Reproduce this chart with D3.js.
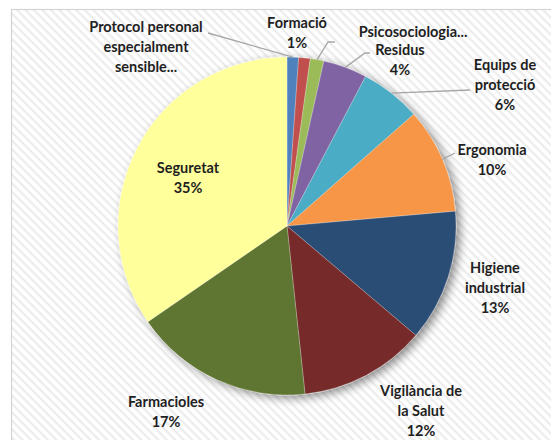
<!DOCTYPE html>
<html><head><meta charset="utf-8">
<script src="https://cdn.jsdelivr.net/npm/d3@7"></script>
<style>html,body{margin:0;padding:0;background:#fff;}</style>
</head><body>
<script>
const categories = ["Protocol personal especialment sensible...", "Formació", "Psicosociologia...", "Residus", "Equips de protecció", "Ergonomia", "Higiene industrial", "Vigilància de la Salut", "Farmacioles", "Seguretat"];
const values = [1.1, 1.1, 1.3, 4.2, 5.8, 10.1, 12.6, 12.1, 17.1, 34.6];
const labelLines = [["Protocol personal","especialment","sensible..."],["Formació"],["Psicosociologia..."],["Residus"],["Equips de","protecció"],["Ergonomia"],["Higiene","industrial"],["Vigilància de","la Salut"],["Farmacioles"],["Seguretat"]];
const showPct = [false, true, false, true, true, true, true, true, true, true];
const colors = ["#4F81BD","#C0504D","#9BBB59","#8064A2","#4BACC6","#F79646","#2C4D75","#772C2A","#5F7530","#FFFF9C"];

// layout (label block centers relative to pie centre, and leader elbows)
const labelPos = [[-141,-179],[10,-193],[126,-194],[113,-166],[218,-141],[205,-66],[208,62],[134,185],[-121,186],[-99,-48]];
const leaderEnds = [[-79,-193],null,[[48,-184],[41,-184]],[[83,-173],[78,-173]],[[183,-136]],[[168,-73]],null,null,null,null];

const W = 551, H = 440, cx = 287, cy = 226, R = 169;
const svg = d3.select("body").append("svg").attr("width", W).attr("height", H);
const defs = svg.append("defs");
const pat = defs.append("pattern").attr("id","hatch").attr("patternUnits","userSpaceOnUse")
  .attr("width",6).attr("height",6).attr("patternTransform","rotate(45)");
pat.append("rect").attr("width",6).attr("height",6).attr("fill","#ffffff");
pat.append("rect").attr("width",6).attr("height",2.2).attr("fill","#ececec");
const f = defs.append("filter").attr("id","shadow").attr("x","-20%").attr("y","-20%").attr("width","140%").attr("height","140%");
f.append("feGaussianBlur").attr("in","SourceAlpha").attr("stdDeviation",5).attr("result","b");
f.append("feOffset").attr("in","b").attr("dx",4).attr("dy",3).attr("result","o");
f.append("feComponentTransfer").attr("in","o").attr("result","o2").append("feFuncA").attr("type","linear").attr("slope",0.45);
const fm = f.append("feMerge"); fm.append("feMergeNode").attr("in","o2"); fm.append("feMergeNode").attr("in","SourceGraphic");

svg.append("rect").attr("x",11.5).attr("y",9.5).attr("width",W).attr("height",H)
  .attr("fill","url(#hatch)").attr("stroke","#d4d4d4").attr("stroke-width",1.2);

const pie = d3.pie().sort(null).value(d => d)(values);
const arc = d3.arc().innerRadius(0).outerRadius(R);
const g = svg.append("g").attr("transform", `translate(${cx},${cy})`);
const slices = g.append("g").attr("filter","url(#shadow)");
slices.selectAll("path").data(pie).join("path")
  .attr("d", arc).attr("fill", (d,i) => colors[i])
  .attr("stroke", "rgba(255,255,255,0.35)").attr("stroke-width", 0.7);

const total = d3.sum(values);
// leader lines
pie.forEach((d,i) => {
  const le = leaderEnds[i];
  if (!le) return;
  const a = (d.startAngle + d.endAngle) / 2;
  const start = [R * Math.sin(a), -R * Math.cos(a)];
  let pts;
  if (Array.isArray(le[0])) pts = [start, ...le.slice().reverse()];
  else pts = [start, le];
  g.append("path").attr("d", d3.line()(pts)).attr("fill","none")
    .attr("stroke","#a6a6a6").attr("stroke-width",1.3);
});

// labels
const lh = 20;
pie.forEach((d,i) => {
  const lines = labelLines[i].slice();
  if (showPct[i]) lines.push(Math.round(values[i] / total * 100) + "%");
  const [lx, ly] = labelPos[i];
  const t = g.append("text").attr("text-anchor","middle")
    .attr("font-family","Lato, 'Open Sans', sans-serif").attr("font-weight","bold")
    .attr("font-size","14.5px").attr("fill","#1f1f1f");
  const n = lines.length;
  lines.forEach((s,k) => {
    t.append("tspan").attr("x", lx).attr("y", ly + (k - (n-1)/2) * lh).attr("dy","0.35em").text(s);
  });
});
</script>
</body></html>
